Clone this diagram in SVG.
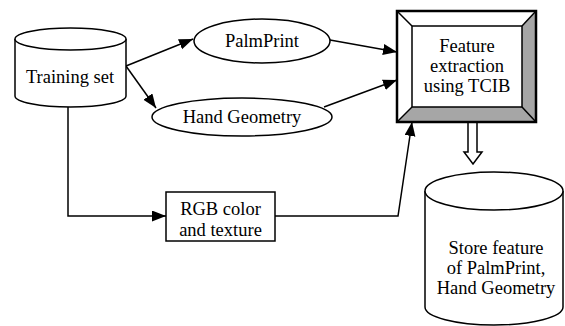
<svg xmlns="http://www.w3.org/2000/svg" width="565" height="326" viewBox="0 0 565 326" font-family="'Liberation Serif', serif">
<style>
.s{fill:none;stroke:#000;stroke-width:1.5}
.w{fill:#fff;stroke:#000;stroke-width:1.5}
.c{fill:none;stroke:#000;stroke-width:1.5}
text{font-family:'Liberation Serif',serif;font-size:18.5px;fill:#000;text-anchor:middle}
</style>
<defs>
<marker id="ah" markerUnits="userSpaceOnUse" markerWidth="15" markerHeight="12" refX="14" refY="5.5" orient="auto">
<path d="M0,0 L14,5.5 L0,11 z" fill="#000"/>
</marker>
</defs>
<rect width="565" height="326" fill="#fff"/>
<g id="connectors">
<line class="c" x1="126" y1="66" x2="193" y2="39" marker-end="url(#ah)"/>
<line class="c" x1="126" y1="66" x2="156" y2="108" marker-end="url(#ah)"/>
<line class="c" x1="330" y1="40" x2="397" y2="52" marker-end="url(#ah)"/>
<line class="c" x1="324" y1="107" x2="397" y2="80" marker-end="url(#ah)"/>
<polyline class="c" points="68,107 68,216 166,216" marker-end="url(#ah)"/>
<polyline class="c" points="275,216 398,216 412,122" marker-end="url(#ah)"/>
<path d="M468,123 L468,152 L464,152 L473,164 L482,152 L477,152 L477,123" fill="#fff" stroke="#000" stroke-width="1.5"/>
</g>
<g id="training-set">
<path class="w" d="M15,39 L15,96 A55.5,11 0 0 0 126,96 L126,39"/>
<ellipse class="w" cx="70.5" cy="39" rx="55.5" ry="11"/>
<text x="70" y="83">Training set</text>
</g>
<g id="palmprint">
<ellipse class="w" cx="262" cy="41" rx="68" ry="22"/>
<text x="262" y="47">PalmPrint</text>
</g>
<g id="hand-geometry">
<ellipse class="w" cx="242" cy="117" rx="90" ry="19"/>
<text x="242" y="123">Hand Geometry</text>
</g>
<g id="feature-extraction">
<polygon points="397,11 536,11 522,26 412,26 412,107 397,122" fill="#fff"/>
<polygon points="536,11 536,122 397,122 412,107 522,107 522,26" fill="#a6a6a6"/>
<line class="s" x1="397" y1="11" x2="412" y2="26"/>
<line class="s" x1="536" y1="11" x2="522" y2="26"/>
<line class="s" x1="397" y1="122" x2="412" y2="107"/>
<line class="s" x1="536" y1="122" x2="522" y2="107"/>
<rect x="412" y="26" width="110" height="81" fill="#fff" stroke="#000" stroke-width="1.5"/>
<rect x="397" y="11" width="139" height="111" fill="none" stroke="#000" stroke-width="2.5"/>
<text x="467" y="52">Feature</text>
<text x="467" y="72">extraction</text>
<text x="467" y="92">using TCIB</text>
</g>
<g id="rgb">
<rect class="w" x="166" y="192" width="109" height="49"/>
<text x="220.5" y="215">RGB color</text>
<text x="220.5" y="236">and texture</text>
</g>
<g id="store">
<path class="w" d="M425,191 L425,307 A69,18 0 0 0 563,307 L563,191"/>
<ellipse class="w" cx="494" cy="191" rx="69" ry="19"/>
<text x="496" y="254">Store feature</text>
<text x="496" y="274">of PalmPrint,</text>
<text x="496" y="294">Hand Geometry</text>
</g>
</svg>
